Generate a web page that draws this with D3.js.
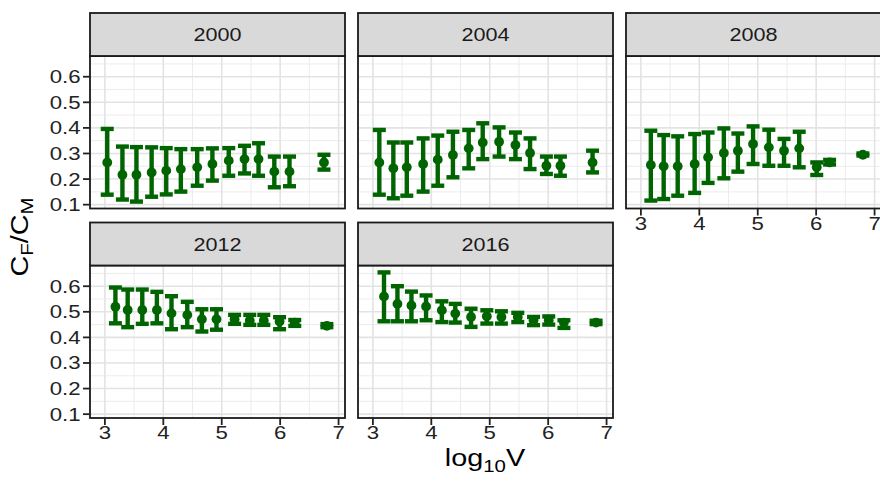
<!DOCTYPE html>
<html>
<head>
<meta charset="utf-8">
<script src="https://cdn.jsdelivr.net/npm/d3@7"></script>
<style>
  html, body { margin: 0; padding: 0; background: #fff; }
  svg { display: block; font-family: "Liberation Sans", Arial, Helvetica, sans-serif; }
</style>
</head>
<body>
<svg id="chart" width="880" height="483"></svg>
<script>
// Female / male ratio by log10 of votes, one facet per election year
const years = ["2000", "2004", "2008", "2012", "2016"];

const logV = [
  [3.04, 3.30, 3.54, 3.80, 4.05, 4.30, 4.58, 4.84, 5.12, 5.39, 5.63, 5.90, 6.16, 6.75],
  [3.11, 3.35, 3.58, 3.86, 4.11, 4.37, 4.64, 4.88, 5.16, 5.44, 5.69, 5.97, 6.21, 6.76],
  [3.17, 3.39, 3.63, 3.92, 4.15, 4.42, 4.66, 4.92, 5.19, 5.45, 5.71, 6.01, 6.23, 6.80],
  [3.18, 3.39, 3.64, 3.89, 4.14, 4.41, 4.66, 4.91, 5.22, 5.48, 5.72, 5.99, 6.25, 6.80],
  [3.19, 3.42, 3.66, 3.91, 4.18, 4.41, 4.68, 4.95, 5.20, 5.48, 5.75, 6.01, 6.27, 6.82]
];

const ratio = [
  [0.265, 0.217, 0.217, 0.226, 0.233, 0.239, 0.246, 0.259, 0.272, 0.278, 0.278, 0.229, 0.229, 0.265],
  [0.265, 0.242, 0.246, 0.259, 0.276, 0.294, 0.320, 0.343, 0.346, 0.333, 0.302, 0.252, 0.252, 0.265],
  [0.255, 0.250, 0.250, 0.259, 0.285, 0.302, 0.311, 0.337, 0.324, 0.311, 0.320, 0.246, 0.265, 0.295],
  [0.520, 0.507, 0.507, 0.507, 0.494, 0.488, 0.471, 0.471, 0.471, 0.466, 0.466, 0.462, 0.458, 0.445],
  [0.560, 0.531, 0.525, 0.521, 0.506, 0.493, 0.480, 0.483, 0.480, 0.480, 0.467, 0.467, 0.458, 0.458]
];

const lower = [
  [0.139, 0.120, 0.112, 0.131, 0.140, 0.151, 0.174, 0.194, 0.213, 0.222, 0.213, 0.168, 0.172, 0.237],
  [0.139, 0.125, 0.135, 0.151, 0.174, 0.207, 0.242, 0.278, 0.288, 0.278, 0.239, 0.220, 0.213, 0.226],
  [0.116, 0.122, 0.135, 0.146, 0.185, 0.203, 0.229, 0.259, 0.252, 0.252, 0.246, 0.216, 0.257, 0.292],
  [0.455, 0.440, 0.453, 0.455, 0.432, 0.440, 0.423, 0.430, 0.453, 0.449, 0.449, 0.432, 0.445, 0.440],
  [0.463, 0.463, 0.463, 0.467, 0.460, 0.458, 0.441, 0.454, 0.454, 0.460, 0.448, 0.450, 0.437, 0.452]
];

const upper = [
  [0.396, 0.327, 0.325, 0.324, 0.321, 0.317, 0.317, 0.320, 0.321, 0.330, 0.340, 0.288, 0.288, 0.295],
  [0.392, 0.343, 0.343, 0.359, 0.370, 0.385, 0.392, 0.418, 0.402, 0.382, 0.359, 0.288, 0.288, 0.311],
  [0.389, 0.372, 0.367, 0.376, 0.382, 0.398, 0.378, 0.406, 0.393, 0.357, 0.385, 0.265, 0.275, 0.300],
  [0.595, 0.587, 0.587, 0.578, 0.561, 0.539, 0.510, 0.510, 0.488, 0.488, 0.488, 0.479, 0.468, 0.452],
  [0.654, 0.600, 0.579, 0.564, 0.541, 0.531, 0.512, 0.506, 0.502, 0.496, 0.480, 0.482, 0.467, 0.465]
];

const xTicks = [3, 4, 5, 6, 7];
const xMinor = [3.5, 4.5, 5.5, 6.5];
const yTicks = [0.1, 0.2, 0.3, 0.4, 0.5, 0.6];
const yMinor = [0.15, 0.25, 0.35, 0.45, 0.55, 0.65];

// Layout
const nCol = 3;
const left0 = 90, panelW = 255, gapX = 13;
const stripTops = [13, 222.5], stripH = 43, panelH = 152.5;
const textStretch = 1.2;
const green = "#006400";

const svg = d3.select("#chart");

const x = d3.scaleLinear().domain([2.745, 7.11]).range([0, panelW]);
const y = d3.scaleLinear().domain([0.085, 0.681]).range([panelH, 0]);

// Text with a wider set, stretched along its baseline
function label(g, tx, ty, str, opts) {
  const t = g.append("text")
    .attr("transform", `translate(${tx},${ty})${opts.rotate ? ` rotate(${opts.rotate})` : ""} scale(${textStretch},1)`)
    .attr("text-anchor", opts.anchor || "middle")
    .attr("font-size", opts.size)
    .attr("fill", opts.fill || "#000");
  if (str !== null) t.text(str);
  return t;
}

years.forEach((yr, i) => {
  const col = i % nCol, row = Math.floor(i / nCol);
  const px = left0 + col * (panelW + gapX);
  const sTop = stripTops[row];
  const pTop = sTop + stripH;
  const g = svg.append("g").attr("transform", `translate(${px},${pTop})`);

  // panel background
  g.append("rect").attr("width", panelW).attr("height", panelH).attr("fill", "#fff");

  // minor grid
  g.selectAll(".vminor").data(xMinor).enter().append("line")
    .attr("x1", d => x(d)).attr("x2", d => x(d)).attr("y1", 0).attr("y2", panelH)
    .attr("stroke", "#eaeaea").attr("stroke-width", 0.9);
  g.selectAll(".hminor").data(yMinor).enter().append("line")
    .attr("y1", d => y(d)).attr("y2", d => y(d)).attr("x1", 0).attr("x2", panelW)
    .attr("stroke", "#eaeaea").attr("stroke-width", 0.9);
  // major grid
  g.selectAll(".vmajor").data(xTicks).enter().append("line")
    .attr("x1", d => x(d)).attr("x2", d => x(d)).attr("y1", 0).attr("y2", panelH)
    .attr("stroke", "#e3e3e3").attr("stroke-width", 1.6);
  g.selectAll(".hmajor").data(yTicks).enter().append("line")
    .attr("y1", d => y(d)).attr("y2", d => y(d)).attr("x1", 0).attr("x2", panelW)
    .attr("stroke", "#e3e3e3").attr("stroke-width", 1.6);

  // error bars
  const pts = logV[i].map((v, k) => ({ v, m: ratio[i][k], lo: lower[i][k], hi: upper[i][k] }));
  const capW = 6.5;
  const eb = g.append("g").attr("stroke", green).attr("stroke-width", 4.4).attr("fill", "none");
  eb.selectAll(".stem").data(pts).enter().append("line")
    .attr("x1", d => x(d.v)).attr("x2", d => x(d.v))
    .attr("y1", d => y(d.lo)).attr("y2", d => y(d.hi));
  eb.selectAll(".capHi").data(pts).enter().append("line")
    .attr("x1", d => x(d.v) - capW).attr("x2", d => x(d.v) + capW)
    .attr("y1", d => y(d.hi)).attr("y2", d => y(d.hi));
  eb.selectAll(".capLo").data(pts).enter().append("line")
    .attr("x1", d => x(d.v) - capW).attr("x2", d => x(d.v) + capW)
    .attr("y1", d => y(d.lo)).attr("y2", d => y(d.lo));
  g.selectAll(".pt").data(pts).enter().append("circle")
    .attr("cx", d => x(d.v)).attr("cy", d => y(d.m)).attr("r", 4.9)
    .attr("fill", green);

  // panel border
  g.append("rect").attr("width", panelW).attr("height", panelH)
    .attr("fill", "none").attr("stroke", "#1a1a1a").attr("stroke-width", 1.8);

  // strip
  const s = svg.append("g").attr("transform", `translate(${px},${sTop})`);
  s.append("rect").attr("width", panelW).attr("height", stripH)
    .attr("fill", "#d9d9d9").attr("stroke", "#1a1a1a").attr("stroke-width", 1.8);
  label(s, panelW / 2, stripH / 2 + 6.5, yr, { size: 18, fill: "#1a1a1a" });

  // y axis on the first column
  if (col === 0) {
    const ya = g.append("g");
    ya.selectAll("line").data(yTicks).enter().append("line")
      .attr("x1", -7).attr("x2", 0).attr("y1", d => y(d)).attr("y2", d => y(d))
      .attr("stroke", "#222").attr("stroke-width", 1.8);
    yTicks.forEach(t => label(ya, -9.5, y(t) + 6.5, d3.format(".1f")(t), { size: 18.5, anchor: "end", fill: "#222" }));
  }
  // x axis where no panel sits below
  const hasBelow = (i + nCol) < years.length;
  if (!hasBelow) {
    const xa = g.append("g").attr("transform", `translate(0,${panelH})`);
    xa.selectAll("line").data(xTicks).enter().append("line")
      .attr("x1", d => x(d)).attr("x2", d => x(d)).attr("y1", 0).attr("y2", 7)
      .attr("stroke", "#222").attr("stroke-width", 1.8);
    xTicks.forEach(t => label(xa, x(t), 21, String(t), { size: 18.5, fill: "#222" }));
  }
});

// axis titles
const xt = label(svg, 485, 466, null, { size: 24 });
xt.append("tspan").text("log");
xt.append("tspan").attr("font-size", 17).attr("dy", 6).text("10");
xt.append("tspan").attr("dy", -6).text("V");

const yt = label(svg, 28, 237, null, { size: 24, rotate: -90 });
yt.append("tspan").text("C");
yt.append("tspan").attr("font-size", 17).attr("dy", 5).text("F");
yt.append("tspan").attr("dy", -5).text("/C");
yt.append("tspan").attr("font-size", 17).attr("dy", 5).text("M");
</script>
</body>
</html>
